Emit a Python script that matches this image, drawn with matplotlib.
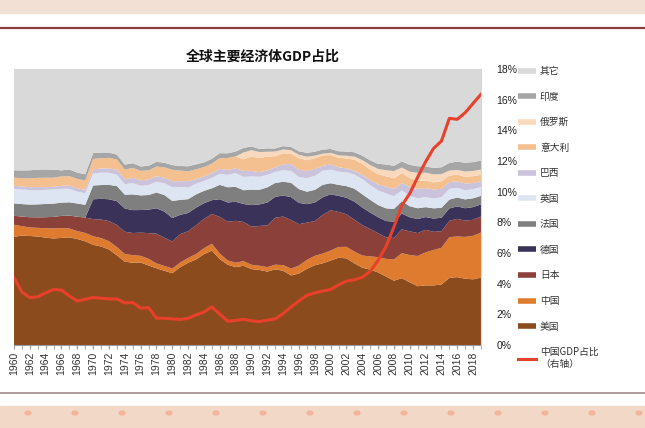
import numpy as np
import matplotlib
matplotlib.use("Agg")
import matplotlib.pyplot as plt
from matplotlib.lines import Line2D
from matplotlib.patches import Rectangle

plt.rcParams['font.family'] = ['Noto Sans CJK SC', 'DejaVu Sans']

years = list(range(1960, 2020))

# share of world GDP, %
us = [39.2, 39.6, 39.5, 39.3, 38.9, 38.6, 38.8, 39.0, 38.4, 37.6,
      36.3, 35.7, 34.6, 32.5, 30.2, 29.8, 29.9, 28.8, 27.8, 26.9,
      26.0, 28.2, 29.8, 31.0, 32.9, 34.2, 31.1, 29.1, 28.2, 28.7,
      27.5, 27.2, 26.6, 27.4, 26.9, 25.2, 25.9, 27.6, 28.9, 29.6,
      30.6, 31.6, 31.4, 29.6, 28.0, 27.3, 26.3, 24.8, 23.3, 24.2,
      22.7, 21.3, 21.6, 21.6, 21.9, 24.3, 24.6, 24.0, 23.8, 24.4]
china = [4.40, 3.45, 3.09, 3.15, 3.40, 3.62, 3.58, 3.20, 2.87, 2.98,
         3.10, 3.05, 3.01, 3.00, 2.75, 2.77, 2.40, 2.44, 1.75, 1.74,
         1.70, 1.67, 1.74, 1.96, 2.15, 2.48, 2.02, 1.55, 1.60, 1.68,
         1.58, 1.53, 1.62, 1.70, 2.05, 2.48, 2.88, 3.24, 3.40, 3.52,
         3.62, 3.92, 4.17, 4.25, 4.42, 4.80, 5.52, 6.42, 7.70, 9.10,
         9.88, 10.95, 11.95, 12.82, 13.30, 14.78, 14.72, 15.15, 15.76, 16.35]
japan = [3.2, 3.5, 3.7, 3.8, 4.0, 4.2, 4.4, 4.7, 5.2, 5.6,
         6.2, 6.7, 7.3, 8.0, 8.1, 8.0, 8.4, 9.3, 10.8, 10.2,
         9.8, 10.3, 9.7, 10.4, 10.6, 10.8, 13.3, 14.0, 15.2, 14.2,
         13.8, 14.4, 15.1, 17.0, 17.6, 17.6, 15.0, 13.5, 12.6, 14.0,
         14.6, 12.7, 11.8, 11.6, 11.0, 9.9, 8.7, 7.8, 7.8, 8.6,
         8.6, 8.3, 8.2, 6.6, 6.0, 5.9, 6.4, 5.9, 5.8, 5.8]
germany = [0, 0, 0, 0, 0, 0, 0, 0, 0, 0,
           7.2, 7.5, 7.9, 8.6, 8.4, 8.3, 8.2, 8.5, 9.2, 9.5,
           8.5, 7.0, 6.6, 6.4, 5.7, 5.0, 6.4, 7.0, 6.9, 6.5,
           7.8, 7.8, 8.3, 7.6, 7.6, 8.3, 7.7, 6.7, 6.7, 6.4,
           5.8, 5.8, 6.0, 6.5, 6.4, 6.0, 5.8, 5.9, 5.9, 5.7,
           5.1, 5.1, 4.6, 4.8, 4.9, 4.5, 4.5, 4.5, 4.6, 4.4]
france = [4.5, 4.5, 4.6, 4.7, 4.8, 4.8, 4.8, 4.8, 4.8, 4.6,
          5.0, 5.0, 5.2, 5.5, 5.0, 5.7, 5.3, 5.3, 5.7, 6.0,
          6.2, 5.4, 5.0, 4.8, 4.5, 4.3, 5.2, 5.5, 5.4, 5.0,
          5.6, 5.3, 5.5, 5.0, 5.0, 5.2, 5.0, 4.5, 4.6, 4.5,
          4.0, 4.0, 4.2, 4.7, 4.8, 4.6, 4.4, 4.6, 4.6, 4.5,
          4.0, 3.9, 3.6, 3.7, 3.6, 3.2, 3.2, 3.2, 3.2, 3.1]
uk = [5.3, 5.3, 5.2, 5.1, 5.1, 5.1, 5.0, 4.9, 4.3, 4.2,
      4.4, 4.5, 4.4, 4.1, 3.8, 4.1, 3.5, 3.6, 3.9, 4.3,
      5.0, 4.6, 4.2, 3.9, 3.6, 3.8, 4.0, 4.5, 5.0, 4.8,
      4.8, 4.7, 4.5, 4.0, 4.2, 4.3, 4.4, 4.9, 5.1, 5.1,
      4.9, 4.8, 5.0, 5.1, 5.5, 5.3, 5.3, 5.4, 4.6, 3.9,
      3.7, 3.6, 3.6, 3.6, 3.8, 3.9, 3.5, 3.3, 3.3, 3.2]
brazil = [1.1, 1.1, 1.1, 1.2, 1.0, 1.0, 1.1, 1.2, 1.2, 1.2,
          1.4, 1.5, 1.6, 1.8, 1.8, 1.9, 2.0, 2.0, 2.0, 2.0,
          2.1, 2.2, 2.3, 1.6, 1.6, 1.7, 1.8, 1.8, 1.7, 2.2,
          2.0, 1.7, 1.6, 1.7, 2.1, 2.5, 2.6, 2.6, 2.5, 1.8,
          1.9, 1.6, 1.4, 1.4, 1.5, 1.9, 2.2, 2.4, 2.7, 2.7,
          3.3, 3.4, 3.3, 3.2, 3.1, 2.4, 2.4, 2.5, 2.2, 2.1]
italy = [2.9, 3.0, 3.2, 3.3, 3.4, 3.3, 3.4, 3.4, 3.4, 3.4,
         3.8, 3.7, 3.8, 3.7, 3.5, 3.6, 3.4, 3.3, 3.5, 3.7,
         4.2, 3.8, 3.6, 3.6, 3.4, 3.4, 3.9, 4.3, 4.3, 4.2,
         5.2, 5.1, 5.0, 4.0, 4.0, 3.7, 4.2, 3.9, 3.9, 3.8,
         3.4, 3.4, 3.6, 4.0, 4.0, 3.8, 3.7, 3.8, 3.8, 3.6,
         3.2, 3.0, 2.7, 2.6, 2.7, 2.4, 2.4, 2.4, 2.5, 2.3]
russia = [0, 0, 0, 0, 0, 0, 0, 0, 0, 0,
          0, 0, 0, 0, 0, 0, 0, 0, 0, 0,
          0, 0, 0, 0, 0, 0, 0, 0, 0, 2.5,
          2.3, 2.2, 1.8, 1.7, 1.4, 1.3, 1.2, 1.3, 0.9, 0.6,
          0.8, 0.9, 1.0, 1.1, 1.4, 1.6, 1.9, 2.2, 2.6, 2.0,
          2.3, 2.8, 2.9, 2.9, 2.6, 1.8, 1.7, 1.9, 1.9, 1.9]
india = [2.7, 2.8, 2.9, 3.0, 3.0, 2.9, 2.2, 2.4, 2.3, 2.3,
         2.1, 2.1, 1.9, 1.8, 1.8, 1.7, 1.6, 1.7, 1.7, 1.7,
         1.7, 1.7, 1.8, 1.8, 1.7, 1.8, 1.8, 1.7, 1.8, 1.6,
         1.4, 1.1, 1.2, 1.1, 1.2, 1.2, 1.3, 1.4, 1.4, 1.5,
         1.4, 1.5, 1.5, 1.6, 1.6, 1.7, 1.8, 2.1, 1.9, 2.2,
         2.5, 2.4, 2.3, 2.3, 2.5, 2.8, 3.0, 3.2, 3.2, 3.3]

series = [us, china, japan, germany, france, uk, brazil, italy, russia, india]
others = [100 - sum(v) for v in zip(*series)]
names = ['美国', '中国', '日本', '德国', '法国', '英国', '巴西', '意大利', '俄罗斯', '印度', '其它']
colors = ['#8c4b1d', '#de7b2e', '#8c403a', '#3a3258', '#7f7f7f', '#dce5f1',
          '#cbc3dc', '#f4c08f', '#f9d9bd', '#a6a6a6', '#d9d9d9']

fig = plt.figure(figsize=(6.45, 4.28), dpi=100)
fig.patch.set_facecolor('white')

# slide decoration
H = 428.0
fig.add_artist(Rectangle((0, 1 - 13 / H), 1, 13 / H, transform=fig.transFigure,
                         color='#f1e0d3', zorder=0))
fig.add_artist(Line2D([0, 1], [1 - 28 / H] * 2, color='#8e3b3b', lw=1.6))
fig.add_artist(Line2D([0, 1], [1 - 393 / H] * 2, color='#a38a8a', lw=1.2))
fig.add_artist(Rectangle((0, 0), 1, 22 / H, transform=fig.transFigure,
                         color='#f2d9c7', zorder=0))
for dx in np.arange(28, 645, 47):
    fig.add_artist(plt.Circle((dx / 645, 15 / H), 0.0045, transform=fig.transFigure,
                              color='#f3b49c', zorder=1))

ax = fig.add_axes([14 / 645, 83 / H, 467 / 645, 276 / H])
data = [np.array(s) / 100 for s in series] + [np.array(others) / 100]
ax.stackplot(years, *data, colors=colors, linewidth=0)
ax.set_xlim(1960, 2019)
ax.set_ylim(0, 1)
ax.set_yticks([])
for s in ['left', 'top', 'right']:
    ax.spines[s].set_visible(False)
ax.spines['bottom'].set_color('#9a9a9a')
ax.set_xticks(range(1960, 2019, 2))
ax.set_xticks(range(1960, 2020), minor=True)
ax.tick_params(axis='x', which='both', length=3, color='#9a9a9a', pad=2)
ax.set_xticklabels([str(y) for y in range(1960, 2019, 2)], rotation=90,
                   fontsize=7.5, color='#333333', family='Liberation Sans')

ax2 = ax.twinx()
ax2.plot(years, china, color='#e8402b', lw=2.2)
ax2.set_ylim(0, 18)
ax2.set_yticks(range(0, 19, 2))
ax2.set_yticklabels([f'{t}%' for t in range(0, 19, 2)], fontsize=7.5,
                    color='#222222', family='Liberation Sans')
ax2.tick_params(axis='y', length=0, pad=11)
for s in ['left', 'top', 'bottom']:
    ax2.spines[s].set_visible(False)
ax2.spines['right'].set_color('#d6d6d6')
ax2.spines['right'].set_linewidth(0.8)

fig.text(263 / 645, 1 - 57 / H, '全球主要经济体GDP占比', ha='center', va='center',
         fontsize=10, fontweight='bold', color='#111111')

handles = [Line2D([], [], color=c, lw=4, solid_capstyle='butt') for c in colors[::-1]]
handles.append(Line2D([], [], color='#e8402b', lw=2.2))
labels = names[::-1] + ['中国GDP占比\n（右轴）']
fig.legend(handles, labels, loc='upper left', bbox_to_anchor=(518 / 645, 1 - 66 / H),
           frameon=False, fontsize=7, handlelength=1.9, handletextpad=0.35,
           labelspacing=1.6, borderpad=0, borderaxespad=0, labelcolor='#333333')

fig.savefig('out.png', dpi=100)
